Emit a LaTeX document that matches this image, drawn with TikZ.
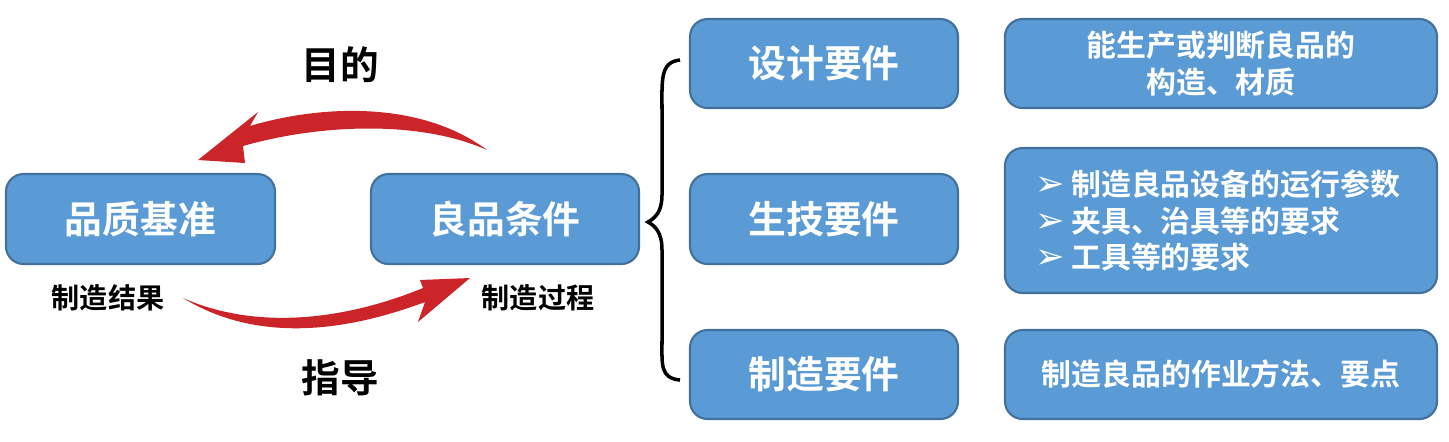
\documentclass[tikz,border=0pt]{standalone}
\usepackage{fontspec}
\setmainfont{Noto Sans CJK SC}[BoldFont={Noto Sans CJK SC Bold}]
\newfontfamily\symf{DejaVu Sans}
\definecolor{boxf}{HTML}{5B9BD5}
\definecolor{boxd}{HTML}{41719C}
\definecolor{arr}{HTML}{CC2529}
\begin{document}
\begin{tikzpicture}[x=0.02cm,y=-0.02cm,
  bx/.style={draw=boxd,line width=1.2pt,fill=boxf,rounded corners=10pt,inner sep=0pt},
  big/.style={text=white,font=\bfseries\fontsize{21.5}{24}\selectfont},
  sm/.style={text=white,font=\bfseries\fontsize{17}{21}\selectfont,align=center},
  lab/.style={font=\bfseries\fontsize{16}{18}\selectfont}]
\useasboundingbox (0,0) rectangle (1449,441);
\newcommand\bxn[6]{\draw[bx] (#2,#3) rectangle (#4,#5); \node[#6] (#1) at ({(#2+#4)/2},{(#3+#5)/2})}
\bxn{pz}{6}{174}{275}{264}{big}{品质基准};
\bxn{lp}{371}{174}{639}{264}{big}{良品条件};
\bxn{sj}{690}{19}{958}{108}{big}{设计要件};
\bxn{sx}{690}{174}{958}{264}{big}{生技要件};
\bxn{zz}{690}{330}{958}{419}{big}{制造要件};
\bxn{r1}{1005}{19}{1437}{108}{sm}{能生产或判断良品的\\构造、材质};
\bxn{r2}{1005}{148}{1437}{293}{sm,align=left,xshift=-2}{{\symf\fontsize{20}{21}\selectfont ➢}\ 制造良品设备的运行参数\\{\symf\fontsize{20}{21}\selectfont ➢}\ 夹具、治具等的要求\\{\symf\fontsize{20}{21}\selectfont ➢}\ 工具等的要求};
\bxn{r3}{1005}{330}{1437}{419}{sm}{制造良品的作业方法、要点};
\node[font=\bfseries\fontsize{22}{24}\selectfont] (md) at (340,65) {目的};
\node[font=\bfseries\fontsize{22}{24}\selectfont] (zd) at (340,378) {指导};
\node[lab] (jg) at (108,298) {制造结果};
\node[lab] (gc) at (538,298) {制造过程};
\fill[arr] (487,150) .. controls (420,100) and (320,105) .. (250,126) -- (258,112) -- (198,160) -- (245,163) -- (243,146) .. controls (320,124) and (420,120) .. (487,150) -- cycle;
\fill[arr] (183,298) .. controls (260,345) and (350,330) .. (425,302) -- (418,322) -- (470,278) -- (420,280) -- (423,288) .. controls (350,318) and (260,332) .. (183,298) -- cycle;
\draw[line width=2pt] (680,60) .. controls (660,62) and (662,80) .. (662,110) -- (662,195) .. controls (662,212) and (655,218) .. (648,222) .. controls (655,226) and (662,232) .. (662,250) -- (662,340) .. controls (662,365) and (660,378) .. (680,380);
\end{tikzpicture}
\end{document}
